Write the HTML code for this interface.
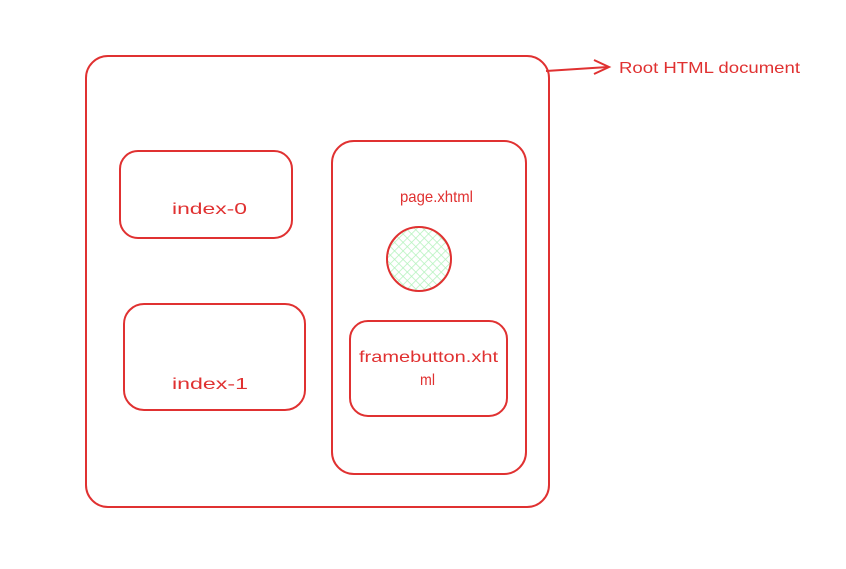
<!DOCTYPE html>
<html><head><style>
html,body{margin:0;padding:0;background:#fff;width:846px;height:569px;overflow:hidden}
text{font-family:"Comic Sans MS","Liberation Sans",sans-serif;fill:#e03131;font-size:16px}
</style></head><body>
<svg width="846" height="569" viewBox="0 0 846 569">
<defs>
<pattern id="h" width="6" height="6" patternUnits="userSpaceOnUse" patternTransform="rotate(45)">
<rect width="6" height="6" fill="#fff"/>
<line x1="0" y1="0" x2="0" y2="6" stroke="#b2f2bb" stroke-width="1.5"/>
<line x1="0" y1="0" x2="6" y2="0" stroke="#b2f2bb" stroke-width="1.5"/>
</pattern>
</defs>
<g fill="none" stroke="#e03131" stroke-width="2">
<rect x="86" y="56" width="463" height="451" rx="22"/>
<rect x="120" y="151" width="172" height="87" rx="18"/>
<rect x="124" y="304" width="181" height="106" rx="20"/>
<rect x="332" y="141" width="194" height="333" rx="22"/>
<rect x="350" y="321" width="157" height="95" rx="18"/>
<circle cx="419" cy="259" r="32" fill="url(#h)"/>
<path d="M546 71 L608 67"/>
<path d="M594 60 L609 67 L594 74"/>
</g>
<text x="172" y="214" textLength="75" lengthAdjust="spacingAndGlyphs">index-0</text>
<text x="172" y="389" textLength="76" lengthAdjust="spacingAndGlyphs">index-1</text>
<text x="400" y="202" textLength="73" lengthAdjust="spacingAndGlyphs">page.xhtml</text>
<text x="359" y="362" textLength="139" lengthAdjust="spacingAndGlyphs">framebutton.xht</text>
<text x="420" y="385" textLength="15" lengthAdjust="spacingAndGlyphs">ml</text>
<text x="619" y="73" textLength="181" lengthAdjust="spacingAndGlyphs">Root HTML document</text>
</svg>
</body></html>
